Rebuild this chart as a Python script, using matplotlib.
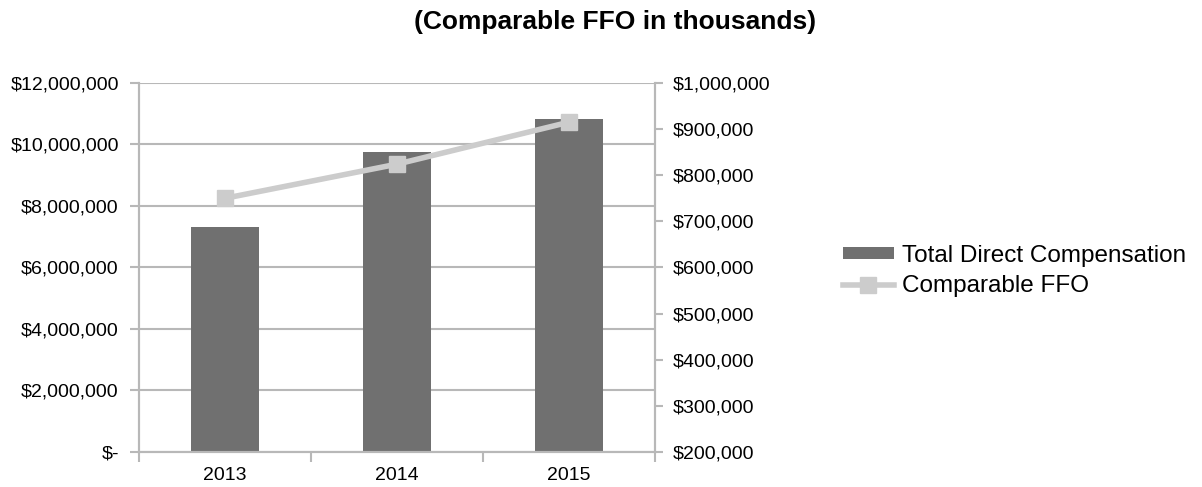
import matplotlib.pyplot as plt
import numpy as np
from matplotlib.ticker import FuncFormatter

plt.rcParams['font.family'] = ['Liberation Sans', 'DejaVu Sans']

years = ['2013', '2014', '2015']
total_direct_comp = [7320000, 9760000, 10830000]
comparable_ffo = [750000, 824000, 915000]

fig = plt.figure(figsize=(12.02, 4.87), dpi=100)
ax = fig.add_axes([0.1156, 0.0719, 0.4293, 0.7577])
ax2 = ax.twinx()

x = np.arange(len(years))
grid_c = '#b8b8b8'

bars = ax.bar(x, total_direct_comp, width=0.4, color='#707070', zorder=2,
              label='Total Direct Compensation')
ax.set_xlim(-0.5, 2.5)
ax.set_ylim(0, 12000000)
ax.set_yticks(np.arange(0, 12000001, 2000000))
ax.yaxis.set_major_formatter(FuncFormatter(
    lambda v, p: '$-' if v == 0 else '${:,.0f}'.format(v)))
ax.grid(axis='y', color=grid_c, linewidth=1.5, zorder=0)
ax.set_axisbelow(True)
ax.set_xticks(x)
ax.set_xticklabels(years)
ax.set_xticks([-0.5, 0.5, 1.5, 2.5], minor=True)
ax.tick_params(axis='x', which='major', length=0, pad=11, labelsize=14)
ax.tick_params(axis='x', which='minor', length=7, color=grid_c, width=1.5)
ax.tick_params(axis='y', length=6.5, color=grid_c, width=1.5, labelsize=14, pad=8)

line, = ax2.plot(x, comparable_ffo, color='#cccccc', linewidth=4, marker='s',
                 markersize=12, zorder=3, label='Comparable FFO')
ax2.set_ylim(200000, 1000000)
ax2.set_yticks(np.arange(200000, 1000001, 100000))
ax2.yaxis.set_major_formatter(FuncFormatter(lambda v, p: '${:,.0f}'.format(v)))
ax2.tick_params(axis='y', length=6, color=grid_c, width=1.5, labelsize=14, pad=6.5)

for a in (ax, ax2):
    a.spines['top'].set_visible(False)
    for s in ('left', 'right', 'bottom'):
        a.spines[s].set_color(grid_c)
        a.spines[s].set_linewidth(1.5)

fig.text(0.512, 0.955, '(Comparable FFO in thousands)', ha='center', va='center',
         fontsize=19, fontweight='bold')

fig.legend([bars, line], ['Total Direct Compensation', 'Comparable FFO'],
           loc='upper left', bbox_to_anchor=(0.683, 0.542), frameon=False,
           fontsize=17.5, handlelength=2.1, handleheight=0.4, labelspacing=0.35,
           handletextpad=0.32)

fig.savefig('out.png', dpi=100)
